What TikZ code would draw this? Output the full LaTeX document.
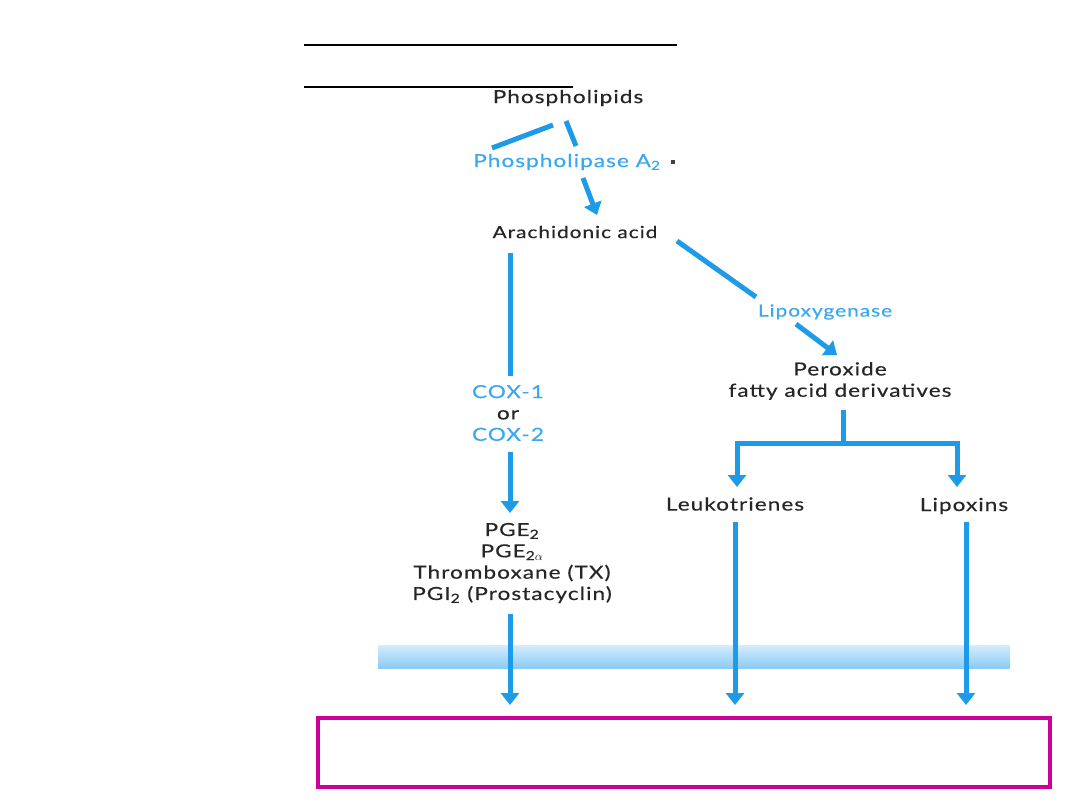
\documentclass[tikz,border=0pt]{standalone}
\usepackage{fontspec}
\setmainfont{Lato}[FakeStretch=1.25,LetterSpace=6,FakeBold=0.4]
\usetikzlibrary{arrows.meta}
\definecolor{pathblue}{HTML}{1D9BE8}
\definecolor{enzblue}{HTML}{3AA8EE}
\definecolor{labgray}{HTML}{262626}
\definecolor{boxpink}{HTML}{CC0099}
\definecolor{membtop}{HTML}{D4ECFC}
\definecolor{membbot}{HTML}{8ACCF4}
\tikzset{
  flow/.style={draw=pathblue, line width=3.75pt},
  flowarr/.style={flow, -{Triangle[width=13.5pt,length=9pt]}},
  lbl/.style={font=\fontsize{13.5}{16}\selectfont, text=labgray, inner sep=1pt, align=center},
  enz/.style={lbl, text=enzblue}
}
\begin{document}
\begin{tikzpicture}[x=0.75pt,y=-0.75pt]
\useasboundingbox (0,0) rectangle (1080,810);
% Title rules
\draw[line width=1.6pt] (304,45) -- (677,45);
\draw[line width=1.6pt] (304,87) -- (573,87);
% Labels
\node[lbl, font=\fontsize{13.5}{16}\selectfont] (phos) at (568,98) {Phospholipids};
\node[enz] (pla) at (567,162) {Phospholipase A\textsubscript{2}};
\fill[black!75] (671,160) rectangle (675,164);
\node[lbl, font=\fontsize{12.5}{16}\selectfont] (aa) at (575,232) {Arachidonic acid};
\node[enz, font=\fontsize{12.5}{16}\selectfont] (lox) at (825,312) {Lipoxygenase};
\node[lbl] (perox) at (840,381) {Peroxide\\fatty acid derivatives};
\node[lbl] (cox) at (508,413) {\textcolor{enzblue}{COX-1}\\or\\\textcolor{enzblue}{COX-2}};
\node[lbl] (leuko) at (735,504) {Leukotrienes};
\node[lbl] (lipox) at (964,506) {Lipoxins};
\node[lbl] (pge) at (512,563) {PGE\textsubscript{2}\\PGE\textsubscript{2$\alpha$}\\Thromboxane (TX)\\PGI\textsubscript{2} (Prostacyclin)};
% Membrane
\shade[top color=membtop, bottom color=membbot] (378,645) rectangle (1010,668);
% Free ends
\coordinate (plL) at (492,148);
\coordinate (plR) at (553,125);
\coordinate (plA) at (566,121);
\coordinate (plB) at (576,146);
\coordinate (aaIn) at (583,178);
\coordinate (aaTip) at (597,215);
\coordinate (coxTop) at (510,253);
\coordinate (coxMid) at (510,376);
\coordinate (coxOut) at (510,452);
\coordinate (coxTip) at (510,513);
\coordinate (loxA) at (677,241);
\coordinate (loxB) at (756,297);
\coordinate (pxA) at (796,324);
\coordinate (pxB) at (837,355);
\coordinate (stem) at (843,410);
\coordinate (fork) at (843,443);
\coordinate (forkL) at (737,487);
\coordinate (forkR) at (957,487);
\coordinate (pgeOut) at (510,614);
\coordinate (leuOut) at (735,522);
\coordinate (lipOut) at (966,522);
\coordinate (outC) at (510,705);
\coordinate (outL) at (735,705);
\coordinate (outR) at (966,705);
% Connectors
\draw[flow] (plL) -- (plR);
\draw[flow] (plA) -- (plB);
\draw[flowarr] (aaIn) -- (aaTip);
\draw[flow] (coxTop) -- (coxMid);
\draw[flowarr] (coxOut) -- (coxTip);
\draw[flow] (loxA) -- (loxB);
\draw[flowarr] (pxA) -- (pxB);
\draw[flow] (stem) -- (fork);
\draw[flowarr] (fork) -| (forkL);
\draw[flowarr] (fork) -| (forkR);
\draw[flowarr] (pgeOut) -- (outC);
\draw[flowarr] (leuOut) -- (outL);
\draw[flowarr] (lipOut) -- (outR);
% Bottom box
\draw[boxpink, line width=2.3pt] (318,718) rectangle (1050,787);
\end{tikzpicture}
\end{document}
